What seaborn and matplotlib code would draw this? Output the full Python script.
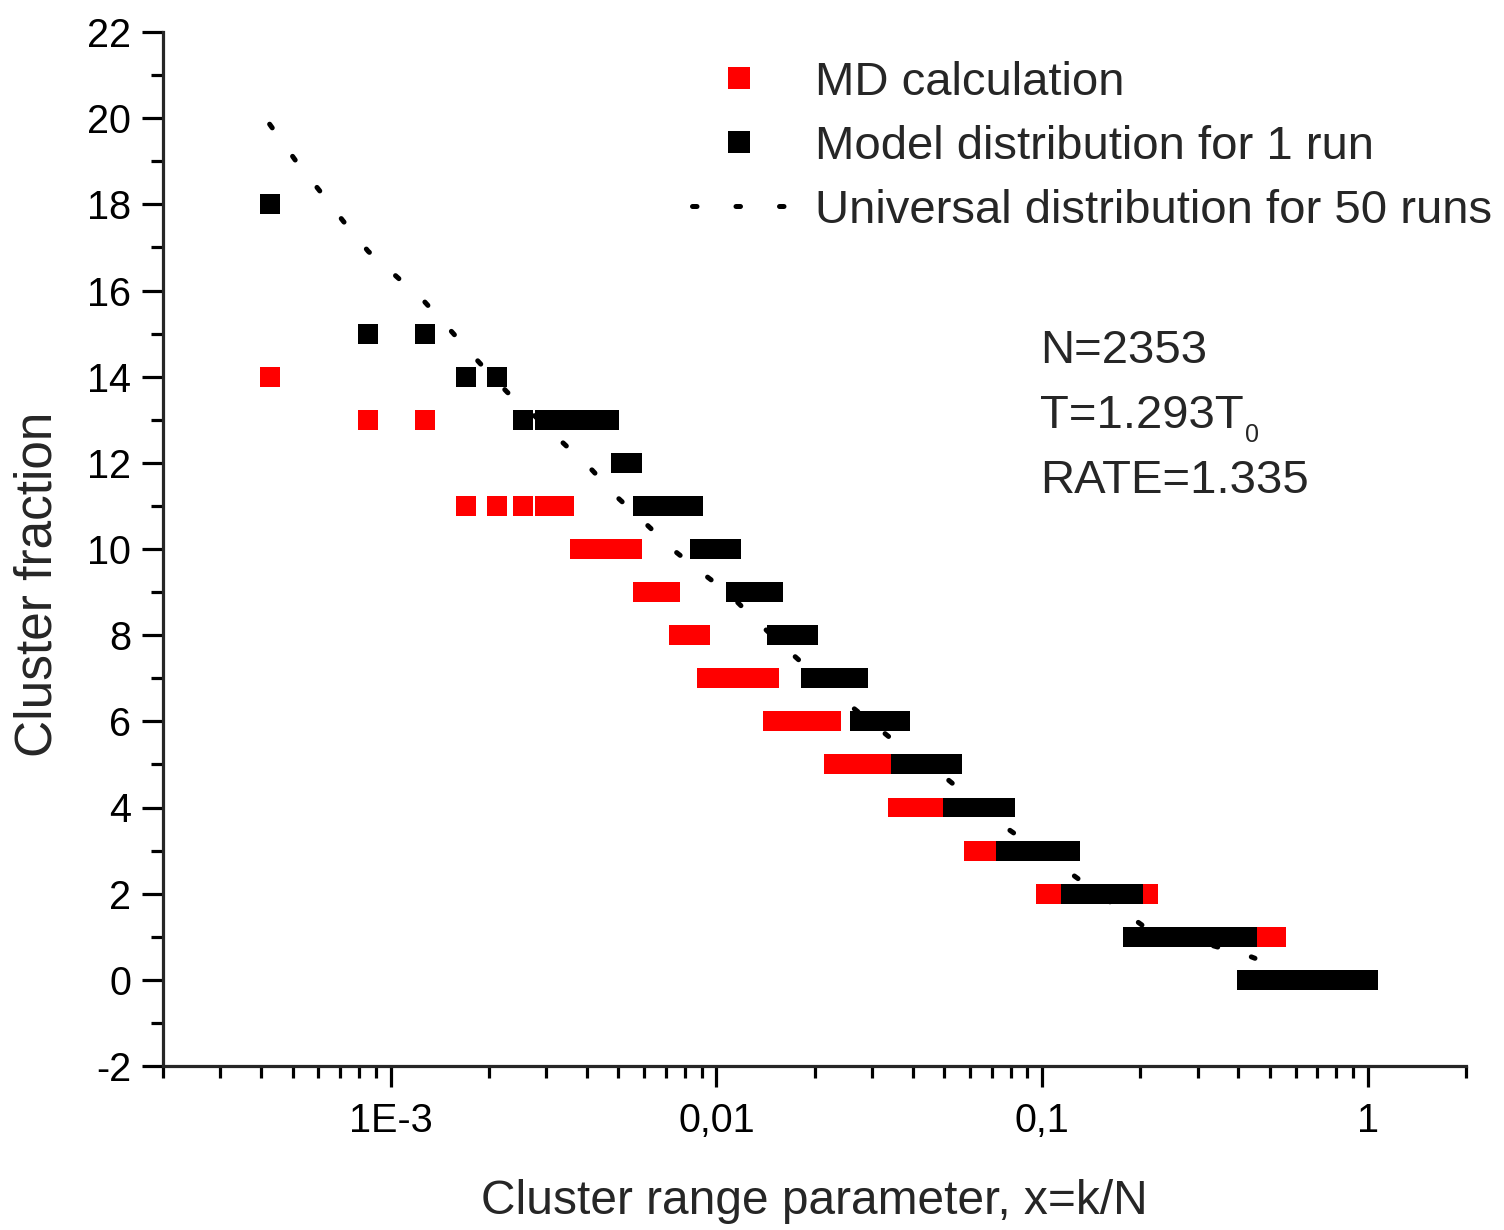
import numpy as np
import pandas as pd
import matplotlib
matplotlib.use("Agg")
import matplotlib.pyplot as plt
import seaborn as sns
from matplotlib.lines import Line2D
from matplotlib.ticker import MultipleLocator, LogLocator, NullFormatter

# ---------------- data ----------------
N = 2353
# MD calculation: cluster fraction level and the k-range (x = k/N) on that level
md_level = [14, 13, 11, 10, 9, 8, 7, 6, 5, 4, 3, 2, 1, 0]
md_k_start = [1, 2, 4, 9, 14, 18, 22, 35, 54, 85, 145, 242, 497, 1229]
md_k_end = [1, 3, 8, 13, 17, 21, 34, 53, 84, 144, 241, 496, 1228, 2353]

# Model distribution for 1 run
model_level = [18, 15, 14, 13, 12, 11, 10, 9, 8, 7, 6, 5, 4, 3, 2, 1, 0]
model_k_start = [1, 2, 4, 6, 12, 14, 21, 27, 36, 46, 65, 87, 125, 182, 288, 448, 1001]
model_k_end = [1, 3, 5, 11, 13, 20, 26, 35, 45, 64, 86, 124, 181, 287, 447, 1000, 2353]

# Universal distribution for 50 runs
univ_x = [4.25e-4, 5.09e-4, 6.03e-4, 7.15e-4, 8.53e-4, 1.040e-3, 1.267e-3, 1.545e-3,
          1.869e-3, 2.279e-3, 2.74e-3, 3.33e-3, 4.155e-3, 4.995e-3, 6.045e-3, 7.37e-3,
          9.05e-3, 0.01079, 0.01306, 0.01592, 0.01861, 0.0230, 0.0263, 0.03667,
          0.05148, 0.07758, 0.1194, 0.2043, 0.4293, 0.45]
univ_y = [19.86, 19.03, 18.33, 17.61, 16.91, 16.33, 15.75, 15.03,
          14.33, 13.64, 13.12, 12.51, 11.83, 11.18, 10.60, 9.98,
          9.44, 9.00, 8.38, 7.77, 7.31, 6.77, 6.31, 5.43,
          4.64, 3.53, 2.53, 1.25, 0.56, 0.50]

x_tick_values = [1e-3, 1e-2, 1e-1, 1]
x_tick_labels = ["1E-3", "0,01", "0,1", "1"]

series_names = ["MD calculation", "Model distribution for 1 run",
                "Universal distribution for 50 runs"]


def expand(levels, starts, ends, name):
    rows = []
    for lv, a, b in zip(levels, starts, ends):
        for k in range(a, b + 1):
            rows.append((k / N, lv, name))
    return rows


df = pd.DataFrame(expand(md_level, md_k_start, md_k_end, series_names[0]) +
                  expand(model_level, model_k_start, model_k_end, series_names[1]),
                  columns=["x", "y", "series"])
univ = pd.DataFrame({"x": univ_x, "y": univ_y})

# ---------------- style ----------------
sns.set_style("ticks")
plt.rcParams["font.family"] = ["Liberation Sans", "DejaVu Sans"]
plt.rcParams["axes.unicode_minus"] = False

W, H = 1504, 1230
fig = plt.figure(figsize=(W / 100, H / 100), dpi=100)
ax = fig.add_axes([163 / W, 1 - 1066 / H, (1466 - 163) / W, (1066 - 32) / H])

sns.lineplot(data=univ, x="x", y="y", ax=ax, color="black", linewidth=3.6,
             linestyle=(0, (0.9, 7.0)), dash_capstyle="round",
             sort=False, estimator=None, zorder=0.5, legend=False)

sns.scatterplot(data=df, x="x", y="y", hue="series", ax=ax,
                palette={series_names[0]: "#ff0000", series_names[1]: "#000000"},
                marker="s", s=207, linewidth=0, legend=False, zorder=2)

ax.set_xscale("log")
ax.set_xlim(2e-4, 2.0)
ax.set_ylim(-2, 22)

ax.set_xticks(x_tick_values)
ax.set_xticklabels(x_tick_labels)
ax.xaxis.set_minor_locator(LogLocator(base=10, subs=np.arange(2, 10)))
ax.xaxis.set_minor_formatter(NullFormatter())
ax.yaxis.set_major_locator(MultipleLocator(2))
ax.yaxis.set_minor_locator(MultipleLocator(1))

sns.despine(ax=ax)
for sp in ["left", "bottom"]:
    ax.spines[sp].set_linewidth(2.3)
ax.tick_params(axis="both", which="major", direction="out", length=15, width=2.3,
               labelsize=28.5, color="black", labelcolor="black")
ax.tick_params(axis="both", which="minor", direction="out", length=8.5, width=2.3,
               color="black")
ax.tick_params(axis="y", which="major", pad=8)
ax.tick_params(axis="x", which="major", pad=11)

ax.set_xlabel("Cluster range parameter, x=k/N", fontsize=34.5, labelpad=28)
ax.set_ylabel("Cluster fraction", fontsize=37)
ax.yaxis.set_label_coords(-0.0775, 0.466)

handles = [
    Line2D([], [], linestyle="none", marker="s", markersize=16.5, color="#ff0000",
           markeredgewidth=0),
    Line2D([], [], linestyle="none", marker="s", markersize=16.5, color="black",
           markeredgewidth=0),
    Line2D([], [], color="black", linewidth=3.6, linestyle=(0, (0.9, 7.8)),
           dash_capstyle="round"),
]
fig.legend(handles, series_names, loc="upper left",
           bbox_to_anchor=(692 / W, 1 - 61 / H), frameon=False, fontsize=34,
           handlelength=2.0, handletextpad=0.6, labelspacing=0.42,
           borderpad=0, borderaxespad=0)

fig.text(1040 / W, 1 - 363 / H, "N=2353", fontsize=34, va="baseline")
fig.text(1040 / W, 1 - 428 / H, "T=1.293T", fontsize=34, va="baseline")
fig.text(1245 / W, 1 - 442 / H, "0", fontsize=18, va="baseline")
fig.text(1040 / W, 1 - 493 / H, "RATE=1.335", fontsize=34, va="baseline")

fig.savefig("out.png", dpi=100, facecolor="white")
